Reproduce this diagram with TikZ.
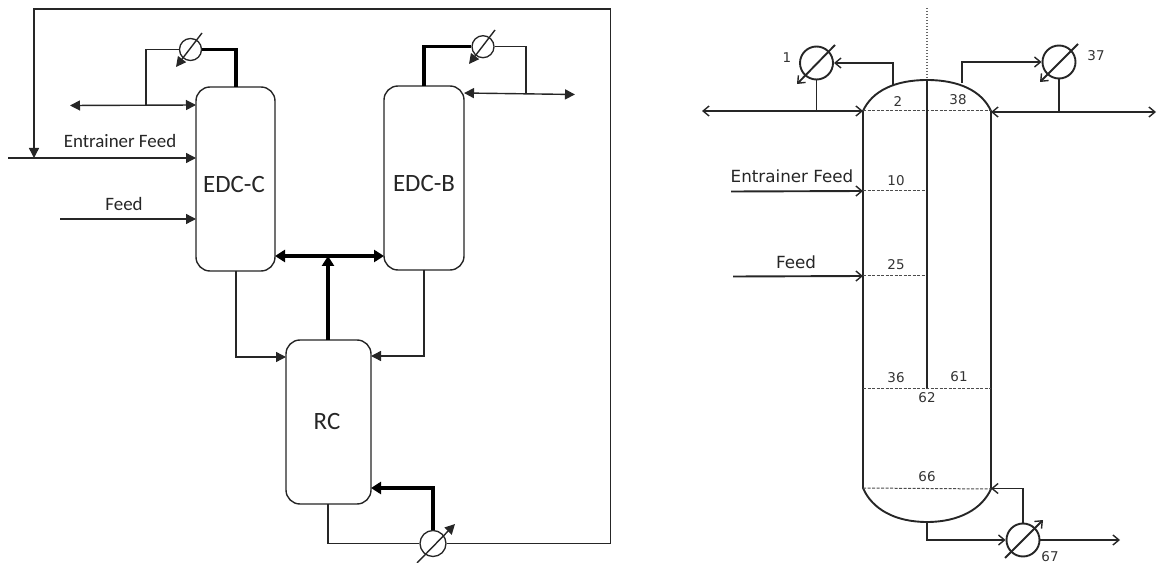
\documentclass[tikz,border=0pt]{standalone}
\usepackage{fontspec}
\setmainfont{Carlito}
\newfontfamily\djvfont{DejaVu Sans}
\usetikzlibrary{arrows.meta}
\tikzset{
  thin line/.style={line width=1.4bp,draw=black!85},
  heavy/.style={line width=3.6bp,draw=black},
  tip/.style={-{Triangle[length=10bp,width=10bp]}},
  tipb/.style={{Triangle[length=10bp,width=10bp]}-{Triangle[length=10bp,width=10bp]}},
  htip/.style={-{Triangle[length=10bp,width=12bp]}},
  htipb/.style={{Triangle[length=10bp,width=12bp]}-{Triangle[length=10bp,width=12bp]}},
  column/.style={draw=black!85,line width=1.4bp,rounded corners=14bp,fill=white,inner sep=0pt},
  hx/.style={circle,draw=black!85,line width=1.3bp,fill=white,inner sep=0pt},
  ctext/.style={inner sep=0pt,text=black!85,font=\fontsize{25}{27}\selectfont},
  lab/.style={inner sep=0pt,text=black!85,font=\fontsize{19}{21}\selectfont},
  rline/.style={line width=1.9bp,draw=black!85},
  rtip/.style={-{Straight Barb[length=6bp,width=10bp,line width=1.4bp]}},
  rtipb/.style={{Straight Barb[length=6bp,width=10bp,line width=1.4bp]}-{Straight Barb[length=6bp,width=10bp,line width=1.4bp]}},
  rhx/.style={circle,draw=black!85,line width=1.9bp,inner sep=0pt,minimum size=33bp},
  dash line/.style={line width=1bp,draw=black!70,dash pattern=on 3bp off 1.5bp},
  num/.style={inner sep=0pt,text=black!80,font=\djvfont\fontsize{13.5}{15}\selectfont},
  rlab/.style={inner sep=0pt,text=black!85,font=\djvfont\fontsize{16.8}{19}\selectfont},
}
\begin{document}
\begin{tikzpicture}[x=1bp,y=-1bp]
\useasboundingbox (0,0) rectangle (1157,563);
% ---------- left flowsheet
\node[column,minimum width=79bp,minimum height=184bp] (edcc) at (235.5,179) {};
\node[column,minimum width=80bp,minimum height=184bp] (edcb) at (424,178) {};
\node[column,minimum width=85bp,minimum height=164bp] (rc) at (328.5,422) {};
\node[ctext] (tc) at (234,185) {EDC-C};
\node[ctext] (tb) at (424,184) {EDC-B};
\node[ctext] (tr) at (327,422) {RC};
\node[hx,minimum size=22bp] (hc) at (190.5,49.5) {};
\node[hx,minimum size=22bp] (hb) at (483,46.7) {};
\node[hx,minimum size=26bp] (hr) at (433,543.5) {};
% heat exchanger slashes
\coordinate (s1a) at (202,33); \coordinate (s1b) at (176,67);
\coordinate (s2a) at (495,30); \coordinate (s2b) at (469,64);
\coordinate (s3a) at (417,563); \coordinate (s3b) at (455,524);
\draw[thin line,tip] (s1a) -- (s1b);
\draw[thin line,tip] (s2a) -- (s2b);
\draw[thin line,tip] (s3a) -- (s3b);
% coordinates
\coordinate (dl) at (70,105.5); \coordinate (dr) at (196,105);
\coordinate (j1) at (146,105.5);
\coordinate (cEFs) at (8,158); \coordinate (cEFe) at (196,158);
\coordinate (cFs) at (60,219); \coordinate (cFe) at (196,219);
\coordinate (cRec) at (34,158);
\coordinate (bl) at (464,93); \coordinate (br) at (575,94.5); \coordinate (j2) at (526,94);
\coordinate (midL) at (275,256); \coordinate (midR) at (384,256); \coordinate (midC) at (328,256);
\coordinate (r1) at (286,357); \coordinate (r2) at (371,356); \coordinate (r3) at (371,488);
\coordinate (t1) at (236,87); \coordinate (t2) at (424,86);
\coordinate (b1) at (236,271); \coordinate (b2) at (424,270);
\coordinate (rt) at (328,340); \coordinate (rb) at (328,504);
% thin connectors
\draw[thin line,tipb] (dl) -- (dr);
\draw[thin line] (hc.west) -| (j1);
\draw[thin line,tip] (cEFs) -- (cEFe);
\draw[thin line,tip] (cFs) -- (cFe);
\draw[thin line,tipb] (bl) -- (br);
\draw[thin line] (hb.east) -| (j2);
\draw[thin line,tip] (b1) |- (r1);
\draw[thin line,tip] (b2) |- (r2);
\draw[thin line] (rb) |- (hr.west);
\draw[thin line,tip] (hr.east) -- (610.5,543.5) -- (610.5,9) -- (34,9) -- (cRec);
% heavy connectors
\draw[heavy] (t1) |- (hc.east);
\draw[heavy] (t2) |- (hb.west);
\draw[heavy,htipb] (midL) -- (midR);
\draw[heavy,htip] (rt) -- (midC);
\draw[heavy,htip] (hr.north) |- (r3);
\node[lab] (lef) at (120,141) {Entrainer Feed};
\node[lab] (lf) at (124,204) {Feed};
% ---------- right column
\coordinate (tl) at (863,111); \coordinate (tr2) at (991,111);
\coordinate (apex) at (927,80); \coordinate (low) at (927,522);
\coordinate (bl2) at (863,488); \coordinate (br2) at (991,489);
\draw[rline] (bl2) -- (tl) .. controls (872,91) and (895,80) .. (apex) .. controls (959,80) and (982,91) .. (tr2) -- (br2)
  .. controls (982,509) and (959,522) .. (low) .. controls (895,522) and (872,509) .. (bl2);
\coordinate (w2) at (863,111); \coordinate (w10) at (863,191); \coordinate (w25) at (863,276);
\coordinate (w36) at (863,388); \coordinate (e36) at (991,388);
\coordinate (m10) at (927,191); \coordinate (m25) at (925,276); \coordinate (m36) at (927,388);
\draw[dash line] (tl) -- (tr2);
\draw[dash line] (w10) -- (m10);
\draw[dash line] (w25) -- (m25);
\draw[dash line] (w36) -- (e36);
\draw[dash line] (bl2) -- (br2);
\coordinate (top) at (927,8);
\draw[line width=1.2bp,draw=black!60,dash pattern=on 1.5bp off 1.5bp] (top) -- (apex);
\draw[rline] (apex) -- (m36);
\node[rhx] (h1) at (816.5,63) {};
\node[rhx] (h37) at (1059,62) {};
\node[rhx] (h67) at (1023,540) {};
\coordinate (o1a) at (835,45); \coordinate (o1b) at (797,84);
\coordinate (o2a) at (1078,44); \coordinate (o2b) at (1040,82);
\coordinate (o3a) at (1005,558); \coordinate (o3b) at (1043,520);
\draw[rline,rtip] (o1a) -- (o1b);
\draw[rline,rtip] (o2a) -- (o2b);
\draw[rline,rtip] (o3a) -- (o3b);
\coordinate (n1) at (893,85); \coordinate (n2) at (962,83);
\coordinate (ll) at (702,111); \coordinate (rr) at (1156,112);
\coordinate (tr3) at (991,112);
\coordinate (ef0) at (731,191.5); \coordinate (f0) at (733,276.5);
\coordinate (out) at (1120,540); \coordinate (back) at (991,488.5);
\draw[rline,rtip] (n1) |- (h1.east);
\draw[rline,rtip] (n2) |- (h37.west);
\draw[rline,rtipb] (ll) -- (tl);
\draw[rline,rtipb] (tr3) -- (rr);
\draw[rline] (h1.south) -- (h1.south |- tl);
\draw[rline] (h37.south) -- (h37.south |- tr3);
\draw[rline,rtip] (ef0) -- (w10);
\draw[rline,rtip] (f0) -- (w25);
\draw[rline,rtip] (low) |- (h67.west);
\draw[rline,rtip] (h67.north) |- (back);
\draw[rline,rtip] (h67.east) -- (out);
\node[rlab] (re) at (792,176.5) {Entrainer Feed};
\node[rlab] (rf) at (796,262) {Feed};
\node[num] (n01) at (787,58) {1};
\node[num] (n02) at (898,102) {2};
\node[num] (n38) at (958,100) {38};
\node[num] (n37) at (1096,56) {37};
\node[num] (n10) at (896,181) {10};
\node[num] (n25) at (896,265) {25};
\node[num] (n36) at (896,378) {36};
\node[num] (n61) at (959,377) {61};
\node[num] (n62) at (927,398) {62};
\node[num] (n66) at (927,477) {66};
\node[num] (n67) at (1050,557) {67};
\end{tikzpicture}
\end{document}
